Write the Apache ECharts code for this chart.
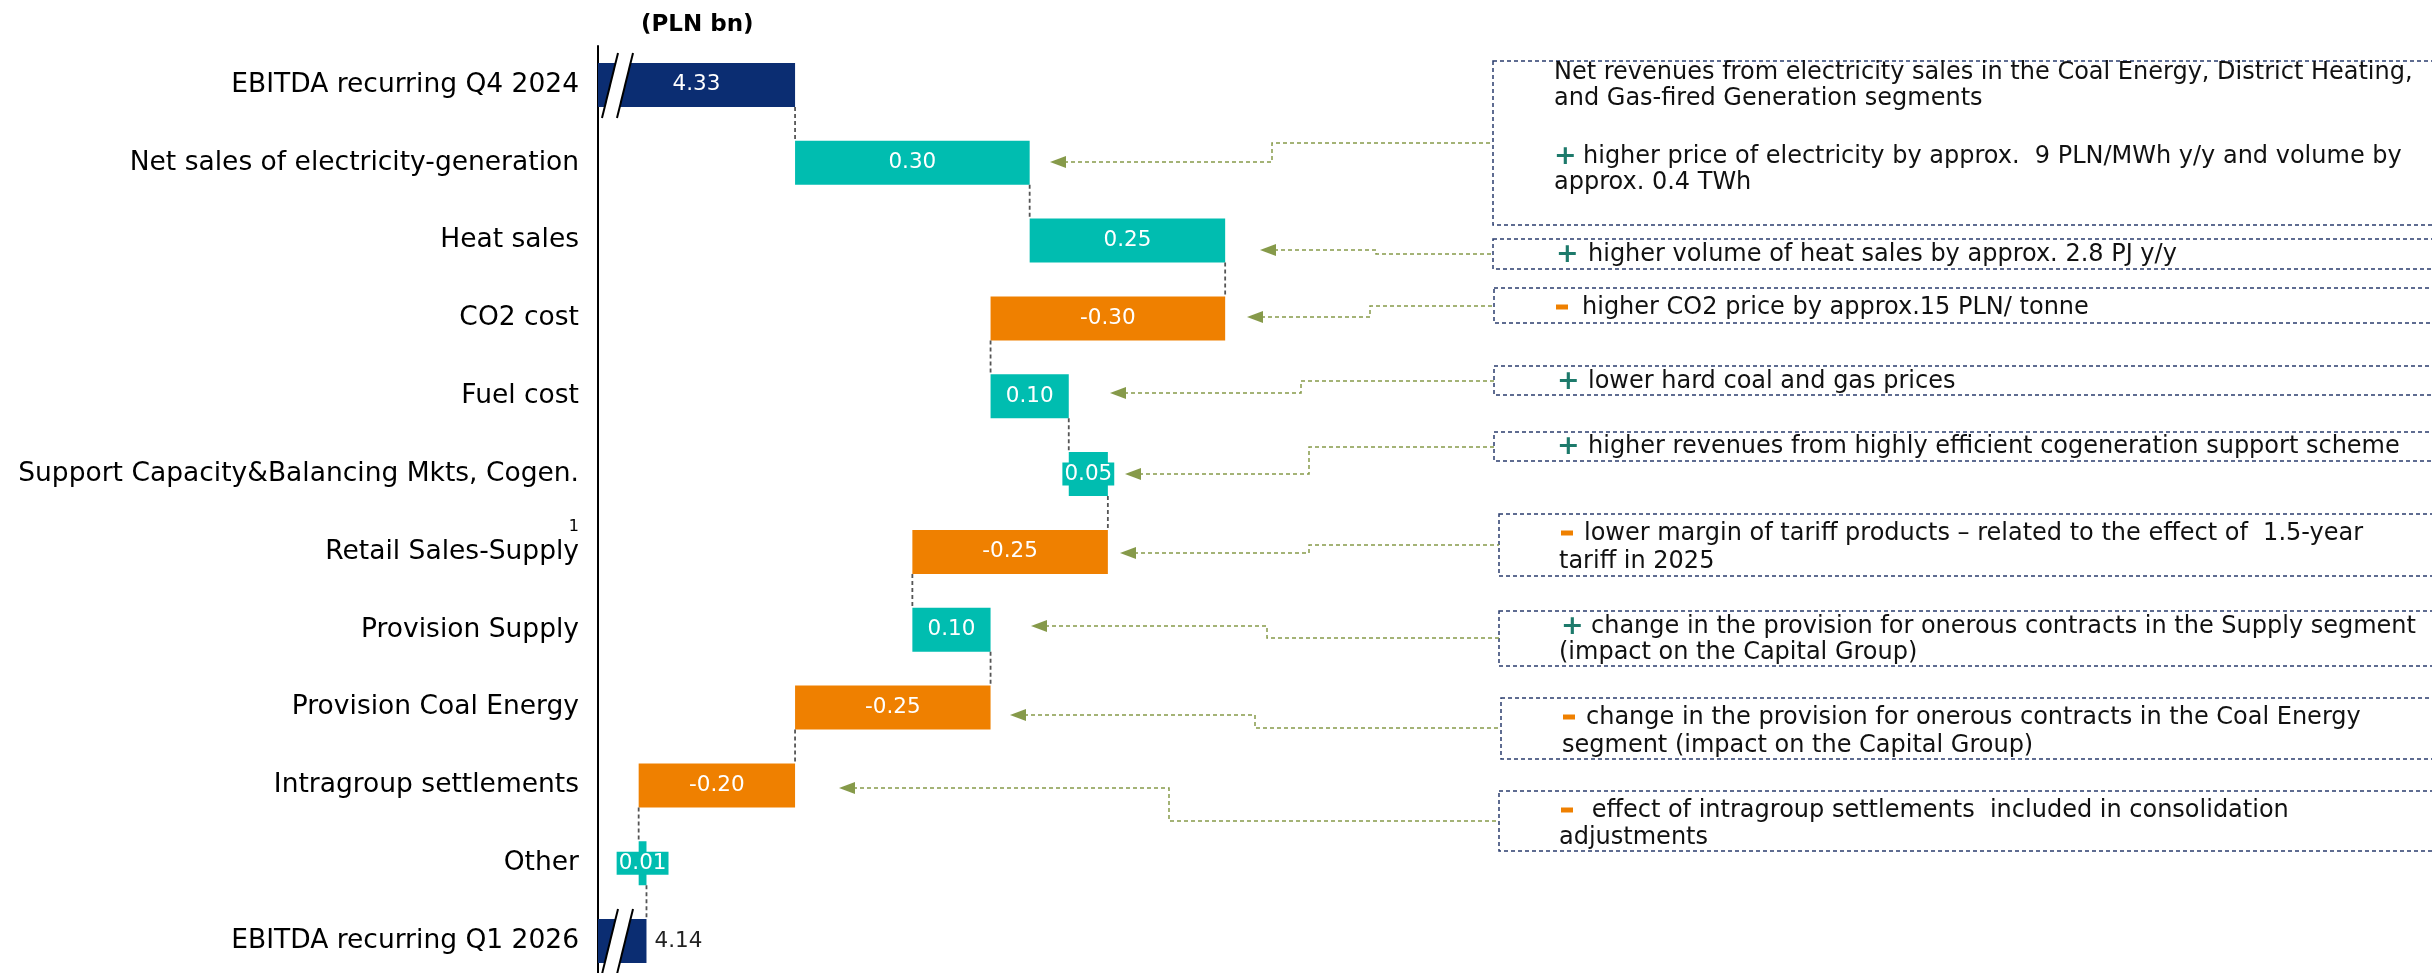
<!DOCTYPE html>
<html>
<head>
<meta charset="utf-8">
<script src="https://cdn.jsdelivr.net/npm/echarts@6/dist/echarts.min.js"></script>
<style>
html,body{margin:0;padding:0;background:#ffffff;}
#chart{width:2432px;height:973px;}
</style>
</head>
<body>
<div id="chart"></div>
<script>
// ---------- data ----------
const categories = [
  'EBITDA recurring Q4 2024',
  'Net sales of electricity-generation',
  'Heat sales',
  'CO2 cost',
  'Fuel cost',
  'Support Capacity&Balancing Mkts, Cogen.',
  'Retail Sales-Supply',
  'Provision Supply',
  'Provision Coal Energy',
  'Intragroup settlements',
  'Other',
  'EBITDA recurring Q1 2026'
];
const values = [4.33, 0.30, 0.25, -0.30, 0.10, 0.05, -0.25, 0.10, -0.25, -0.20, 0.01, 4.14];
const isTotal = [true, false, false, false, false, false, false, false, false, false, false, true];
const footnotes = ['', '', '', '', '', '', '1', '', '', '', '', ''];
const unitLabel = '(PLN bn)';

const noteTexts = [
  [[null, 'Net revenues from electricity sales in the Coal Energy, District Heating,'],
   [null, 'and Gas-fired Generation segments'],
   ['+', 'higher price of electricity by approx.  9 PLN/MWh y/y and volume by'],
   [null, 'approx. 0.4 TWh']],
  [['+', 'higher volume of heat sales by approx. 2.8 PJ y/y']],
  [['-', 'higher CO2 price by approx.15 PLN/ tonne']],
  [['+', 'lower hard coal and gas prices']],
  [['+', 'higher revenues from highly efficient cogeneration support scheme']],
  [['-', 'lower margin of tariff products \u2013 related to the effect of  1.5-year'],
   [null, 'tariff in 2025']],
  [['+', 'change in the provision for onerous contracts in the Supply segment'],
   [null, '(impact on the Capital Group)']],
  [['-', 'change in the provision for onerous contracts in the Coal Energy'],
   [null, 'segment (impact on the Capital Group)']],
  [['-', ' effect of intragroup settlements  included in consolidation'],
   [null, 'adjustments']]
];

// ---------- layout (annotation callouts, pixels) ----------
const noteLayout = [
  {box: [1493, 61, 1000, 164], lines: [[1554, 1554, 73], [1554, 1554, 99], [1554, 1583, 157], [1554, 1554, 183]],
   arrow: [[1050, 162], [1272, 162], [1272, 143], [1493, 143]]},
  {box: [1493, 239, 1000, 30], lines: [[1556, 1588, 255]],
   arrow: [[1260, 250], [1376, 250], [1376, 254], [1493, 254]]},
  {box: [1494, 288, 1000, 35], lines: [[1556, 1582, 308]],
   arrow: [[1247, 317], [1370, 317], [1370, 306], [1494, 306]]},
  {box: [1494, 366, 1000, 29], lines: [[1557, 1588, 382]],
   arrow: [[1110, 393], [1301, 393], [1301, 381], [1494, 381]]},
  {box: [1494, 432, 1000, 29], lines: [[1557, 1588, 447]],
   arrow: [[1125, 474], [1309, 474], [1309, 447], [1494, 447]]},
  {box: [1499, 514, 1000, 62], lines: [[1561, 1584, 534], [1559, 1559, 562]],
   arrow: [[1120, 553], [1309, 553], [1309, 545], [1499, 545]]},
  {box: [1499, 611, 1000, 55], lines: [[1561, 1591, 627], [1559, 1559, 653]],
   arrow: [[1031, 626], [1267, 626], [1267, 638], [1499, 638]]},
  {box: [1501, 698, 1000, 61], lines: [[1563, 1586, 718], [1562, 1562, 746]],
   arrow: [[1010, 715], [1255, 715], [1255, 728], [1501, 728]]},
  {box: [1499, 791, 1000, 60], lines: [[1561, 1584, 811], [1559, 1559, 838]],
   arrow: [[839, 788], [1169, 788], [1169, 821], [1499, 821]]}
];

// ---------- styles ----------
const FONT = 'DejaVu Sans';
const NAVY = '#0b2d72';
const TEAL = '#00bdb0';
const ORANGE = '#ef8000';
const PLUS = '#1d7a6b';
const ARROW = '#869a4a';
const BOXLINE = '#2a3d6e';
const X_MIN = 4.078, X_MAX = 5.2, PX_PER_UNIT = 782;
const BAR_H = 44;

// ---------- derived waterfall ----------
const baseData = [], showData = [], connectors = [], breaks = [];
let run = 0;
for (let i = 0; i < values.length; i++) {
  const v = values[i];
  let base, show;
  if (isTotal[i]) { base = 0; show = v; run = v; }
  else if (v >= 0) { base = run; show = v; run = +(run + v).toFixed(4); }
  else { run = +(run + v).toFixed(4); base = run; show = -v; }
  const color = isTotal[i] ? NAVY : (v >= 0 ? TEAL : ORANGE);
  baseData.push(base);
  const small = !isTotal[i] && Math.abs(v) < 0.06;
  const last = i === values.length - 1;
  showData.push({
    value: show,
    itemStyle: {color: color},
    label: last ? {position: 'right', distance: 8, color: '#222'} :
      (small ? {backgroundColor: TEAL, padding: [1, 2, 0, 2]} : {})
  });
  if (i < values.length - 1) connectors.push([run, i]);
  if (isTotal[i]) breaks.push([X_MIN, i]);
}

const chart = echarts.init(document.getElementById('chart'), null, {renderer: 'canvas'});

const graphics = [];
noteLayout.forEach((n, k) => {
  graphics.push({
    type: 'rect', silent: true,
    shape: {x: n.box[0], y: n.box[1], width: n.box[2], height: n.box[3]},
    style: {fill: 'none', stroke: BOXLINE, lineWidth: 1.5, lineDash: [4, 3]}
  });
  graphics.push({
    type: 'polyline', silent: true,
    shape: {points: n.arrow.map((p, m) => [p[0] + (m === 0 ? 14 : 0), p[1]])},
    style: {fill: 'none', stroke: ARROW, lineWidth: 1.5, lineDash: [4, 3]}
  });
  const tip = n.arrow[0];
  graphics.push({
    type: 'polygon', silent: true,
    shape: {points: [[tip[0], tip[1]], [tip[0] + 16, tip[1] - 6], [tip[0] + 16, tip[1] + 6]]},
    style: {fill: ARROW}
  });
  noteTexts[k].forEach((ln, j) => {
    const L = n.lines[j];
    if (ln[0] === '+') {
      graphics.push({type: 'text', silent: true,
        style: {text: '+', x: L[0], y: L[2], verticalAlign: 'middle', align: 'left',
          fontFamily: FONT, fontSize: 27, fontWeight: 'bold', fill: PLUS}});
    } else if (ln[0] === '-') {
      graphics.push({type: 'rect', silent: true,
        shape: {x: L[0], y: L[2] - 3.5, width: 12, height: 5}, style: {fill: ORANGE}});
    }
    graphics.push({type: 'text', silent: true,
      style: {text: ln[1], x: L[1], y: L[2], verticalAlign: 'middle', align: 'left',
        fontFamily: FONT, fontSize: 24, fill: '#111'}});
  });
});

const option = {
  backgroundColor: '#ffffff',
  animation: false,
  title: {
    text: unitLabel, left: 636, top: 9,
    textStyle: {fontFamily: FONT, fontSize: 23, fontWeight: 'bold', color: '#000'}
  },
  grid: {left: 598, top: 46, width: (X_MAX - X_MIN) * PX_PER_UNIT, height: 934,
    containLabel: false, outerBoundsMode: 'none'},
  xAxis: {
    type: 'value', min: X_MIN, max: X_MAX, show: false,
    splitLine: {show: false}
  },
  yAxis: {
    type: 'category', data: categories, inverse: true,
    axisLine: {show: true, lineStyle: {color: '#000', width: 2}},
    axisTick: {show: false},
    axisLabel: {
      margin: 19, fontFamily: FONT, fontSize: 26.5, color: '#000',
      formatter: function (val, idx) {
        const fn = footnotes[idx];
        if (fn) return '{s|' + fn + '}\n{a|' + val + '}\n{s| }';
        return '{a|' + val + '}';
      },
      rich: {
        a: {fontFamily: FONT, fontSize: 26.5, color: '#000', lineHeight: 30},
        s: {fontFamily: FONT, fontSize: 16, color: '#000', lineHeight: 20, align: 'right'}
      }
    }
  },
  series: [
    {
      type: 'bar', stack: 'wf', barWidth: BAR_H, silent: true,
      itemStyle: {color: 'rgba(0,0,0,0)'},
      data: baseData
    },
    {
      type: 'bar', stack: 'wf', barWidth: BAR_H,
      data: showData,
      label: {
        show: true, position: 'inside', color: '#fff',
        fontFamily: FONT, fontSize: 21.5,
        formatter: p => values[p.dataIndex].toFixed(2)
      }
    },
    {
      type: 'custom', z: 5, silent: true,
      encode: {x: 0, y: 1},
      data: connectors,
      renderItem: function (params, api) {
        const v = api.value(0), i = api.value(1);
        const p1 = api.coord([v, i]);
        const p2 = api.coord([v, i + 1]);
        return {type: 'line',
          shape: {x1: p1[0], y1: p1[1] + BAR_H / 2, x2: p2[0], y2: p2[1] - BAR_H / 2},
          style: {stroke: '#555', lineWidth: 1.8, lineDash: [4, 3]}};
      }
    },
    {
      type: 'custom', z: 6, silent: true,
      encode: {x: 0, y: 1},
      data: breaks,
      renderItem: function (params, api) {
        const p = api.coord([api.value(0), api.value(1)]);
        const x = p[0], y = p[1];
        return {type: 'group', children: [
          {type: 'polygon', shape: {points: [[x + 20, y - 32], [x + 35, y - 32], [x + 19, y + 33], [x + 4, y + 33]]},
            style: {fill: '#fff'}},
          {type: 'line', shape: {x1: x + 20, y1: y - 32, x2: x + 4, y2: y + 33}, style: {stroke: '#000', lineWidth: 2}},
          {type: 'line', shape: {x1: x + 35, y1: y - 32, x2: x + 19, y2: y + 33}, style: {stroke: '#000', lineWidth: 2}}
        ]};
      }
    }
  ],
  graphic: graphics
};
chart.setOption(option);
</script>
</body>
</html>
